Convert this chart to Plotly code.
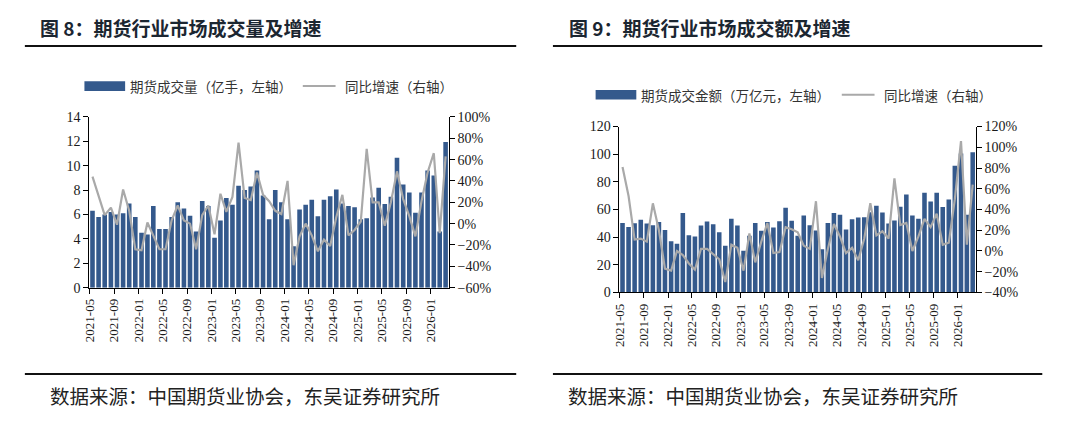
import pandas as pd
import plotly.graph_objects as go

# monthly data, 2021-05 .. 2026-03
months = pd.date_range("2021-05-01", periods=59, freq="MS")

volume = [6.3, 5.8, 6.0, 6.2, 6.0, 6.1, 6.9, 5.8, 4.5, 4.35,
          6.7, 4.8, 4.8, 5.8, 7.0, 6.5, 5.9, 4.6, 7.1, 6.7,
          4.1, 5.5, 7.35, 6.8, 8.35, 8.0, 8.3, 9.6, 7.55, 5.6,
          8.0, 7.0, 5.6, 3.4, 6.4, 6.8, 7.2, 5.85, 7.2, 7.5,
          8.05, 6.9, 6.7, 6.6, 5.6, 5.7, 7.4, 8.2, 6.85, 7.45,
          10.65, 8.45, 7.8, 6.15, 7.8, 9.6, 9.2, 4.6, 11.95]
volume_yoy = [44, 26, 8, 15, -1, 32, 12, -24, -25, 1,
              -12, -24, -24, 3, 17, 3, 0, -24, 8, 17,
              -10, 28, 11, 25, 76, 24, 22, 48, 27, 21,
              12, 9, 40, -39, -12, 0, -11, -26, -15, -21,
              6, 27, -11, -6, 2, 70, 20, 20, -2, 20,
              49, 23, 7, -12, 21, 48, 66, -9, 63]

turnover = [50.2, 47.3, 50.1, 52.6, 49.9, 48.6, 50.9, 45.1, 37.1, 35.3,
            57.4, 41.3, 40.4, 48.5, 51.4, 49.4, 43.5, 33.8, 53.3, 48.4,
            30.2, 41.0, 50.2, 44.7, 50.9, 47.0, 51.6, 61.2, 51.9, 41.0,
            55.6, 48.6, 44.8, 31.2, 50.2, 57.4, 56.3, 45.6, 53.0, 54.3,
            54.4, 58.0, 62.8, 57.9, 49.8, 52.1, 62.0, 70.9, 55.6, 53.3,
            72.1, 65.8, 72.1, 61.9, 67.2, 91.6, 100.5, 56.3, 101.5]
turnover_yoy = [81, 53, 11, 12, 9, 46, 20, -17, -19, 0,
                -4, -12, -18, 2, 2, -3, -8, -30, 6, 3,
                -19, 17, -11, 9, 27, -2, -1, 23, 21, 18,
                5, 2, 48, -26, 2, 26, 14, -2, 3, -9,
                12, 46, 15, 19, 12, 70, 25, 27, 0, 14,
                31, 23, 36, 6, 8, 50, 106, 6, 64]

BAR_COLOR = "#34598c"
LINE_COLOR = "#a9a9a9"
SERIF = "Liberation Serif, Times New Roman, serif"
CJK = "Noto Sans CJK SC"
W, H = 1080, 421


def px(x):
    return x / W


def py(y):
    return 1 - y / H


fig = go.Figure()

bar_style = dict(xperiod="M1", xperiodalignment="middle",
                 marker=dict(color=BAR_COLOR, line=dict(width=0)),
                 showlegend=False)
line_style = dict(mode="lines", xperiod="M1", xperiodalignment="middle",
                  line=dict(color=LINE_COLOR, width=2.2), showlegend=False)

fig.add_trace(go.Bar(x=months, y=volume, xaxis="x", yaxis="y", **bar_style))
fig.add_trace(go.Scatter(x=months, y=volume_yoy, xaxis="x", yaxis="y2", **line_style))
fig.add_trace(go.Bar(x=months, y=turnover, xaxis="x2", yaxis="y3", **bar_style))
fig.add_trace(go.Scatter(x=months, y=turnover_yoy, xaxis="x2", yaxis="y4", **line_style))

tick_font = dict(family=SERIF, size=14, color="#1a1a1a")
axis_style = dict(showline=True, linecolor="black", linewidth=1, ticks="outside",
                  tickcolor="black", ticklen=5, showgrid=False, zeroline=False,
                  tickfont=tick_font)
x_style = dict(axis_style, type="date", range=["2021-05-01", "2026-04-01"],
               tick0="2021-05-01", dtick="M4", tickformat="%Y-%m", tickangle=-90,
               tickfont=dict(tick_font, size=13))

fig.update_layout(
    width=W, height=H,
    margin=dict(l=0, r=0, t=0, b=0),
    paper_bgcolor="white", plot_bgcolor="white",
    bargap=0.22,
    xaxis=dict(x_style, domain=[px(82), px(444)], anchor="y"),
    yaxis=dict(axis_style, domain=[py(291), py(114)], anchor="x", range=[0, 14], dtick=2),
    yaxis2=dict(axis_style, overlaying="y", side="right", anchor="x",
                range=[-60, 100], dtick=20, ticksuffix="%"),
    xaxis2=dict(x_style, domain=[px(616), px(975)], anchor="y3"),
    yaxis3=dict(axis_style, domain=[py(296), py(124)], anchor="x2", range=[0, 120], dtick=20),
    yaxis4=dict(axis_style, overlaying="y3", side="right", anchor="x2",
                range=[-40, 120], dtick=20, ticksuffix="%"),
)

# titles, rules, legends and source notes
panels = [
    dict(x0=17, x1=512, title="图 8：期货行业市场成交量及增速", tx=30,
         bar_label="期货成交量（亿手，左轴）", leg_y=82, sw=(77, 118), ln=(297, 330),
         line_text_x=338, src_x=40),
    dict(x0=549, x1=1042, title="图 9：期货行业市场成交额及增速", tx=563,
         bar_label="期货成交金额（万亿元，左轴）", leg_y=91, sw=(592, 633), ln=(840, 873),
         line_text_x=881, src_x=562),
]

for p in panels:
    fig.add_annotation(x=px(p["tx"]), y=py(21), xref="paper", yref="paper",
                       text="<b>" + p["title"] + "</b>", showarrow=False,
                       xanchor="left", yanchor="middle", align="left",
                       font=dict(family=CJK, size=19, color="#1b2631"))
    for yy in (40.5, 380.5):
        fig.add_shape(type="line", xref="paper", yref="paper",
                      x0=px(p["x0"]), x1=px(p["x1"]), y0=py(yy), y1=py(yy),
                      line=dict(color="#111111", width=2))
    ly = p["leg_y"]
    fig.add_shape(type="rect", xref="paper", yref="paper",
                  x0=px(p["sw"][0]), x1=px(p["sw"][1]), y0=py(ly + 5), y1=py(ly - 5),
                  fillcolor=BAR_COLOR, line=dict(width=0))
    fig.add_annotation(x=px(p["sw"][1] + 3), y=py(ly), xref="paper", yref="paper",
                       text=p["bar_label"], showarrow=False,
                       xanchor="left", yanchor="middle", align="left",
                       font=dict(family=CJK, size=13.5, color="#333333"))
    fig.add_shape(type="line", xref="paper", yref="paper",
                  x0=px(p["ln"][0]), x1=px(p["ln"][1]), y0=py(ly), y1=py(ly),
                  line=dict(color=LINE_COLOR, width=2))
    fig.add_annotation(x=px(p["line_text_x"]), y=py(ly), xref="paper", yref="paper",
                       text="同比增速（右轴）", showarrow=False,
                       xanchor="left", yanchor="middle", align="left",
                       font=dict(family=CJK, size=13.5, color="#333333"))
    fig.add_annotation(x=px(p["src_x"]), y=py(403), xref="paper", yref="paper",
                       text="数据来源：中国期货业协会，东吴证券研究所", showarrow=False,
                       xanchor="left", yanchor="middle", align="left",
                       font=dict(family=CJK, size=19.5, color="#222222"))

fig.write_html("out.html", config={"displayModeBar": False},
               post_script="document.body.style.margin = '0';")
